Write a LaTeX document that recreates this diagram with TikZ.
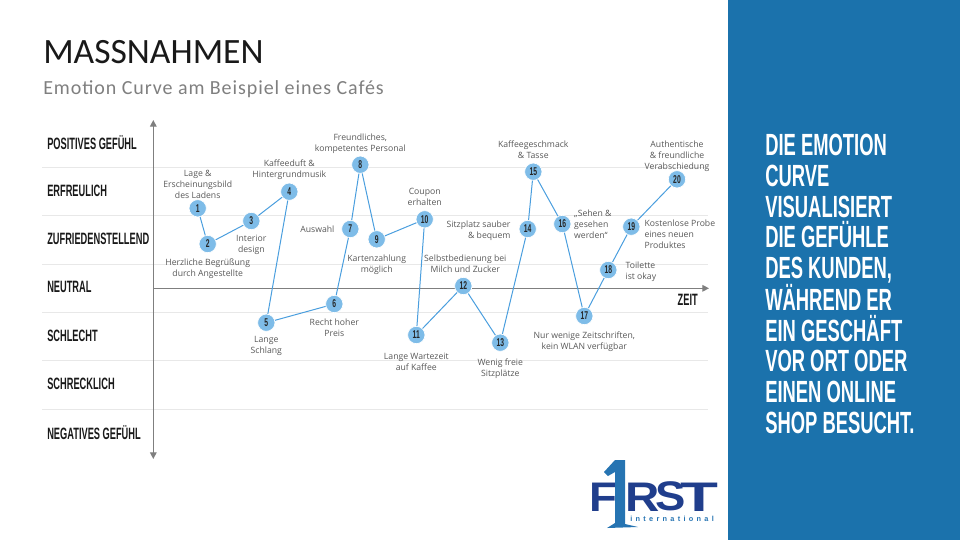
\documentclass[tikz,border=0pt]{standalone}
\usepackage{fontspec}
\setmainfont{Carlito}
\newfontfamily\opensans{Open Sans}
\newfontfamily\bebas[FakeStretch=0.6]{Liberation Sans}
\newfontfamily\bebasrow[FakeStretch=0.565]{Liberation Sans}
\newfontfamily\logofont{Liberation Sans}
\definecolor{panelblue}{RGB}{27,114,172}
\definecolor{pointblue}{RGB}{126,188,232}
\definecolor{curveblue}{RGB}{74,158,222}
\definecolor{logonavy}{RGB}{32,62,140}
\definecolor{logoblue}{RGB}{38,116,178}
\definecolor{gridgrey}{RGB}{232,232,232}
\definecolor{axisgrey}{RGB}{127,127,127}
\definecolor{labelgrey}{RGB}{88,88,88}
\usetikzlibrary{
  arrows.meta,
  positioning
}
\tikzset{
  pointnode/.style={circle, fill=pointblue, draw=white, line width=0.5pt,
    minimum size=13pt, inner sep=0pt, text=black!85,
    font=\bebas\bfseries\fontsize{8.5}{8.5}\selectfont},
  lbl/.style={font=\opensans\fontsize{6.5}{8.25}\selectfont, text=labelgrey,
    align=center, inner sep=0pt},
  rowlabel/.style={anchor=west, inner sep=0pt, text=black!90,
    font=\bebasrow\bfseries\fontsize{12.3}{12.3}\selectfont},
  curve/.style={curveblue, line width=0.75pt},
  axis/.style={axisgrey, line width=0.9pt},
  gridline/.style={gridgrey, line width=0.6pt},
  logoletter/.style={inner sep=0pt, text=logonavy, anchor=south west,
    font=\logofont\bfseries\fontsize{31}{31}\selectfont},
}
\begin{document}
\begin{tikzpicture}[x=0.75pt, y=-0.75pt, node distance=3pt]
  \useasboundingbox (0,0) rectangle (960,540);

  % Right panel
  \fill[panelblue] (728,0) rectangle (960,540);
  \node[anchor=north west, inner sep=0pt, text=white, align=left,
        font=\bebas\bfseries\fontsize{23}{23}\selectfont] (paneltext) at (765,134)
    {DIE EMOTION\\CURVE\\VISUALISIERT\\DIE GEFÜHLE\\DES KUNDEN,\\WÄHREND ER\\EIN GESCHÄFT\\VOR ORT ODER\\EINEN ONLINE\\SHOP BESUCHT.};

  % Title
  \node[anchor=west, inner sep=0pt, text=black!90, font=\fontsize{26.7}{26.7}\selectfont] (title) at (43,52) {MASSNAHMEN};
  \node[anchor=west, inner sep=0pt, text=axisgrey, font=\fontsize{15}{15}\selectfont\addfontfeature{LetterSpace=4.6}] (subtitle) at (43,89) {Emotion Curve am Beispiel eines Cafés};

  % Grid lines
  \foreach \y in {167.3,215.3,264.3,312.3,360.3,409} {
    \draw[gridline] (42,\y) -- (708,\y);
  }

  % Row labels
  \node[rowlabel] (rpos) at (47,142.5) {POSITIVES GEFÜHL};
  \node[rowlabel] (rerf) at (47,190.5) {ERFREULICH};
  \node[rowlabel] (rzuf) at (47,238.5) {ZUFRIEDENSTELLEND};
  \node[rowlabel] (rneu) at (47,287) {NEUTRAL};
  \node[rowlabel] (rsch) at (47,335.5) {SCHLECHT};
  \node[rowlabel] (rsck) at (47,383.5) {SCHRECKLICH};
  \node[rowlabel] (rneg) at (47,432.5) {NEGATIVES GEFÜHL};

  % Axes
  \coordinate (ytop) at (153.3,120);
  \coordinate (ybot) at (153.3,459);
  \coordinate (xleft) at (153.3,288.3);
  \coordinate (xright) at (709,288.3);
  \draw[axis, {Triangle[length=5pt,width=5pt]}-{Triangle[length=5pt,width=5pt]}] (ytop) -- (ybot);
  \draw[axis, -{Triangle[length=5pt,width=5pt]}] (xleft) -- (xright);
  \node[rowlabel, anchor=east] (zeit) at (698,300) {ZEIT};

  % Points
  \node[pointnode] (n1) at (197.7,208.3) {1};
  \node[pointnode] (n2) at (207.7,244) {2};
  \node[pointnode] (n3) at (251.3,221) {3};
  \node[pointnode] (n4) at (289.3,191.7) {4};
  \node[pointnode] (n5) at (266.3,322.7) {5};
  \node[pointnode] (n6) at (334.3,304) {6};
  \node[pointnode] (n7) at (350.3,229) {7};
  \node[pointnode] (n8) at (360.3,164.7) {8};
  \node[pointnode] (n9) at (376.7,239.3) {9};
  \node[pointnode] (n10) at (424.7,219.3) {10};
  \node[pointnode] (n11) at (416.3,335) {11};
  \node[pointnode] (n12) at (463.3,286) {12};
  \node[pointnode] (n13) at (500.3,342.7) {13};
  \node[pointnode] (n14) at (527.7,229) {14};
  \node[pointnode] (n15) at (533.3,171.7) {15};
  \node[pointnode] (n16) at (562.3,224) {16};
  \node[pointnode] (n17) at (584.3,316) {17};
  \node[pointnode] (n18) at (608.3,270) {18};
  \node[pointnode] (n19) at (631.3,226.7) {19};
  \node[pointnode] (n20) at (677,179.3) {20};

  % Curve
  \foreach \s/\t in {n1/n2, n2/n3, n3/n4, n4/n5, n5/n6, n6/n7, n7/n8, n8/n9, n9/n10, n10/n11,
                     n11/n12, n12/n13, n13/n14, n14/n15, n15/n16, n16/n17, n17/n18, n18/n19, n19/n20} {
    \draw[curve] (\s) -- (\t);
  }

  % Point labels
  \node[lbl, above=0pt of n1] (l1) {Lage \&\\Erscheinungsbild\\des Ladens};
  \node[lbl, below=4pt of n2] (l2) {Herzliche Begrüßung\\durch Angestellte};
  \node[lbl, below=3.5pt of n3] (l3) {Interior\\design};
  \node[lbl, above=2.5pt of n4] (l4) {Kaffeeduft \&\\Hintergrundmusik};
  \node[lbl, below=3.5pt of n5] (l5) {Lange\\Schlang};
  \node[lbl, below=4.5pt of n6] (l6) {Recht hoher\\Preis};
  \node[lbl, left=5pt of n7] (l7) {Auswahl};
  \node[lbl, above=1.5pt of n8] (l8) {Freundliches,\\kompetentes Personal};
  \node[lbl, below=5pt of n9] (l9) {Kartenzahlung\\möglich};
  \node[lbl, above=3pt of n10] (l10) {Coupon\\erhalten};
  \node[lbl, below=7pt of n11] (l11) {Lange Wartezeit\\auf Kaffee};
  \node[lbl, above=3pt of n12, xshift=1.5pt] (l12) {Selbstbedienung bei\\Milch und Zucker};
  \node[lbl, below=5pt of n13] (l13) {Wenig freie\\Sitzplätze};
  \node[lbl, left=6pt of n14, yshift=-1.5pt, align=right] (l14) {Sitzplatz sauber\\\& bequem};
  \node[lbl, above=3pt of n15] (l15) {Kaffeegeschmack\\\& Tasse};
  \node[lbl, right=2pt of n16, align=left] (l16) {„Sehen \&\\gesehen\\werden“};
  \node[lbl, below=5pt of n17] (l17) {Nur wenige Zeitschriften,\\kein WLAN verfügbar};
  \node[lbl, right=6pt of n18, yshift=-1.5pt, align=left] (l18) {Toilette\\ist okay};
  \node[lbl, right=3pt of n19, yshift=-6pt, align=left] (l19) {Kostenlose Probe\\eines neuen\\Produktes};
  \node[lbl, above=-1pt of n20] (l20) {Authentische\\\& freundliche\\Verabschiedung};

  % Logo
  \node[logoletter, xscale=1.1] (logof) at (589,511.5) {F};
  \node[logoletter, xscale=1.15] (logor) at (625,511.5) {R};
  \node[logoletter, xscale=1.1] (logos) at (655,511.5) {S};
  \node[logoletter, xscale=1.5] (logot) at (680,511.5) {T};
  \fill[logoblue] (604,472) -- (615,460) -- (625,460) -- (625,524) -- (638,527)
    -- (607,528) -- (615,523) -- (615,472) -- (608,476) -- cycle;
  \node[anchor=west, inner sep=0pt, text=logoblue,
        font=\logofont\bfseries\fontsize{5.5}{5.5}\selectfont\addfontfeature{LetterSpace=45}] (logosub) at (630,519)
    {international};
\end{tikzpicture}
\end{document}
